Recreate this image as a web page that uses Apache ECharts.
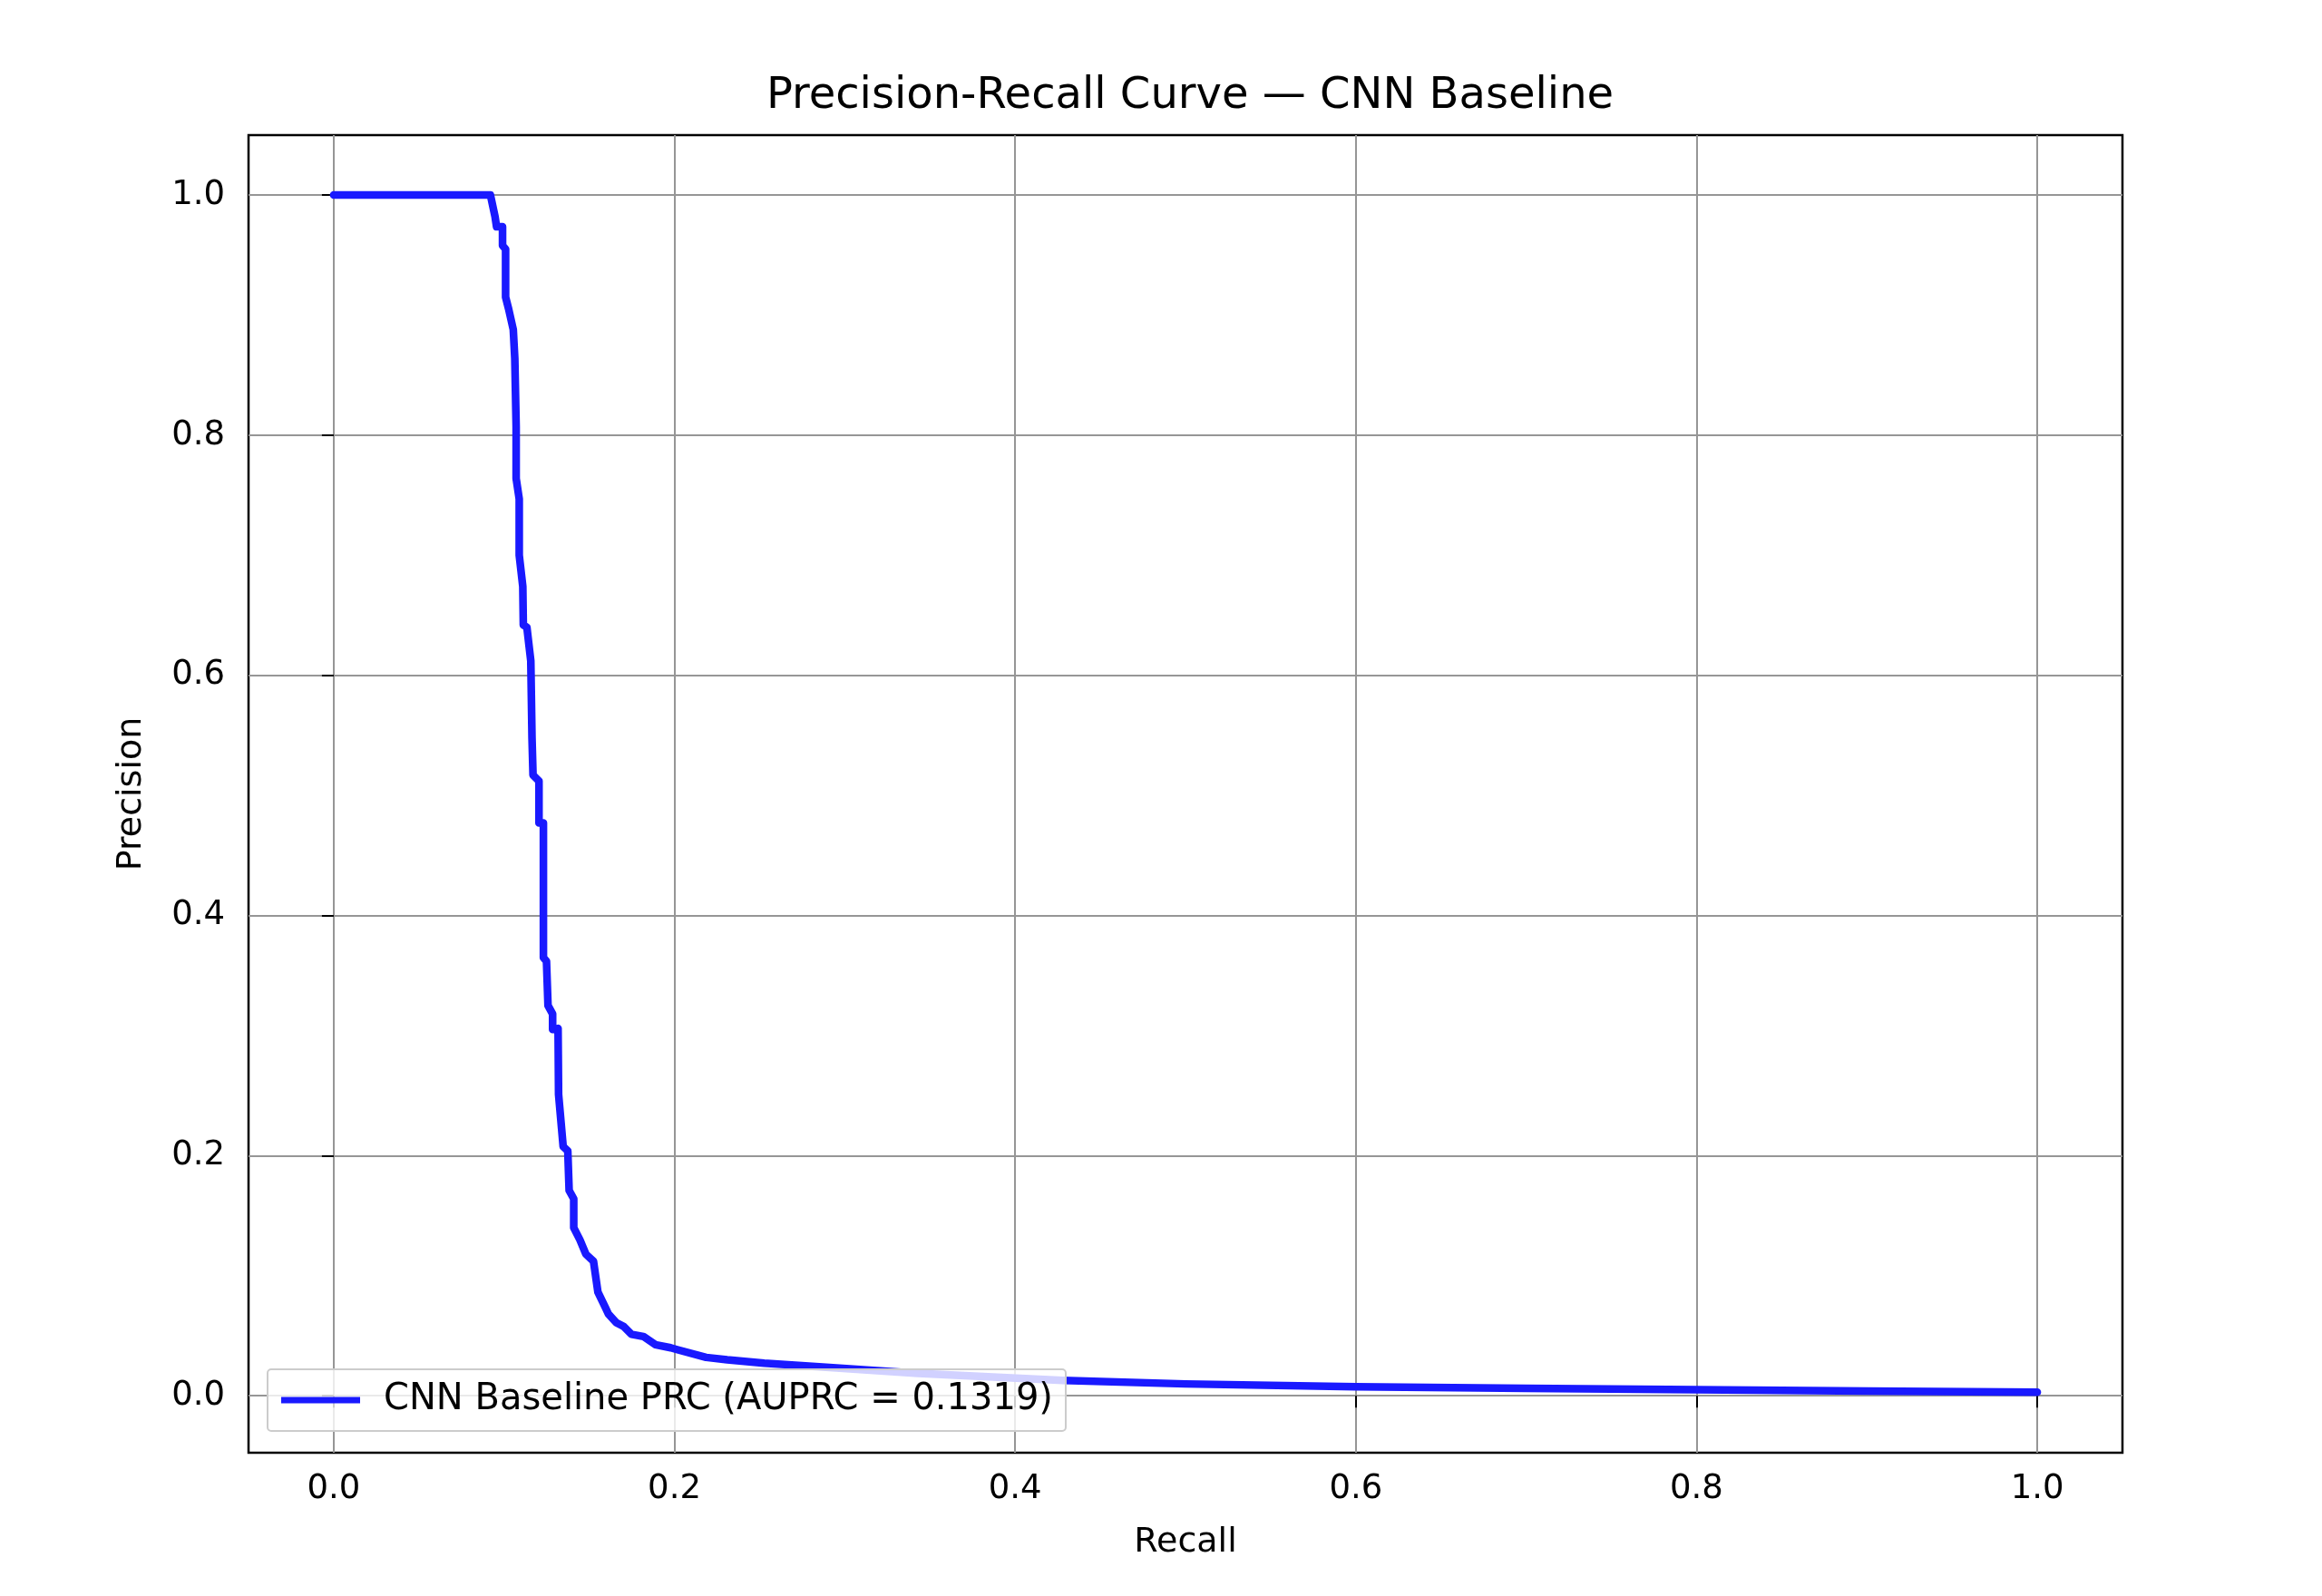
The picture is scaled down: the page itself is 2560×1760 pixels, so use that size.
<!DOCTYPE html>
<html>
<head>
<meta charset="utf-8">
<title>Precision-Recall Curve</title>
<script src="https://cdn.jsdelivr.net/npm/echarts@6.0.0/dist/echarts.min.js"></script>
<style>
  html, body { margin: 0; padding: 0; background: #fff; }
  #prcChart { width: 2560px; height: 1760px; }
</style>
</head>
<body>
<div id="prcChart"></div>
<script>
// values
const recall = [0, 0.092, 0.0947, 0.0956, 0.0991, 0.0991, 0.1009, 0.1009, 0.1027, 0.1054,
  0.1063, 0.1071, 0.1071, 0.1089, 0.1089, 0.111, 0.1113, 0.1134, 0.1157, 0.1164,
  0.117, 0.1205, 0.1205, 0.1231, 0.1231, 0.1249, 0.1258, 0.1285, 0.1285, 0.1317,
  0.132, 0.1347, 0.1374, 0.1382, 0.1409, 0.1409, 0.1445, 0.148, 0.1525, 0.1551,
  0.1596, 0.1613, 0.1658, 0.1702, 0.1747, 0.1818, 0.1888, 0.1978, 0.2015, 0.2186,
  0.231, 0.2527, 0.287, 0.343, 0.428, 0.5, 0.6, 0.7, 0.8, 0.9, 1.0]
const precision = [1.0, 1.0, 0.982, 0.9736, 0.9736, 0.958, 0.955, 0.915, 0.905, 0.888,
  0.864, 0.807, 0.764, 0.747, 0.7, 0.674, 0.642, 0.64, 0.612, 0.548,
  0.517, 0.512, 0.477, 0.477, 0.365, 0.362, 0.325, 0.318, 0.305, 0.306,
  0.251, 0.2075, 0.204, 0.171, 0.164, 0.14, 0.13, 0.118, 0.112, 0.0863,
  0.0732, 0.068, 0.061, 0.0577, 0.0513, 0.0494, 0.0426, 0.04, 0.0385, 0.032,
  0.03, 0.0272, 0.024, 0.0186, 0.0128, 0.0099, 0.0075, 0.0062, 0.005, 0.004, 0.003]
const xTicks = [0, 0.2, 0.4, 0.6, 0.8, 1.0]
const yTicks = [0, 0.2, 0.4, 0.6, 0.8, 1.0]
const seriesName = 'CNN Baseline PRC (AUPRC = 0.1319)'
const chartTitle = 'Precision-Recall Curve — CNN Baseline'

const font = 'DejaVu Sans'
const curveData = recall.map((r, i) => [r, precision[i]])

const myChart = echarts.init(document.getElementById('prcChart'), null, { renderer: 'canvas' })

const chartOption = {
  backgroundColor: '#ffffff',
  animation: false,
  title: {
    text: chartTitle,
    left: 1307,
    top: 78,
    textAlign: 'center',
    textStyle: {
      fontFamily: font,
      fontSize: 48,
      fontWeight: 'normal',
      color: '#000'
    }
  },
  legend: {
    show: true,
    left: 295,
    top: 1510,
    orient: 'horizontal',
    icon: 'rect',
    itemWidth: 87,
    itemHeight: 7,
    padding: [14, 14, 14, 15],
    backgroundColor: 'rgba(255,255,255,0.8)',
    borderColor: '#cccccc',
    borderWidth: 2,
    borderRadius: 4,
    textStyle: {
      fontFamily: font,
      fontSize: 40,
      color: '#000',
      padding: [0, 0, 0, 21]
    },
    data: [seriesName]
  },
  grid: {
    left: 274,
    right: 220,
    top: 149,
    bottom: 158,
    show: true,
    borderColor: '#000',
    borderWidth: 2.5,
    containLabel: false
  },
  xAxis: {
    type: 'value',
    min: -0.05,
    max: 1.05,
    name: 'Recall',
    nameLocation: 'middle',
    nameGap: 80,
    nameTextStyle: { fontFamily: font, fontSize: 38, color: '#000' },
    axisLine: { show: false },
    axisTick: {
      show: true,
      inside: false,
      length: 13,
      customValues: xTicks,
      lineStyle: { color: '#000', width: 2 }
    },
    axisLabel: {
      show: true,
      margin: 22,
      customValues: xTicks,
      formatter: (v) => v.toFixed(1),
      fontFamily: font,
      fontSize: 37,
      color: '#000'
    },
    splitLine: {
      show: true,
      lineStyle: { color: '#969696', width: 2 }
    }
  },
  yAxis: {
    type: 'value',
    min: -0.0474,
    max: 1.0499,
    name: 'Precision',
    nameLocation: 'middle',
    nameGap: 110,
    nameRotate: 90,
    nameTextStyle: { fontFamily: font, fontSize: 38, color: '#000' },
    axisLine: { show: false },
    axisTick: {
      show: true,
      inside: false,
      length: 13,
      customValues: yTicks,
      lineStyle: { color: '#000', width: 2 }
    },
    axisLabel: {
      show: true,
      margin: 26,
      customValues: yTicks,
      formatter: (v) => v.toFixed(1),
      fontFamily: font,
      fontSize: 37,
      color: '#000'
    },
    splitLine: {
      show: true,
      lineStyle: { color: '#969696', width: 2 }
    }
  },
  series: [
    {
      name: seriesName,
      type: 'line',
      data: curveData,
      symbol: 'none',
      smooth: false,
      color: '#1919ff',
      lineStyle: { color: '#1919ff', width: 8.5, join: 'round', cap: 'round' },
      z: 2
    }
  ]
}

myChart.setOption(chartOption, true)
</script>
</body>
</html>
